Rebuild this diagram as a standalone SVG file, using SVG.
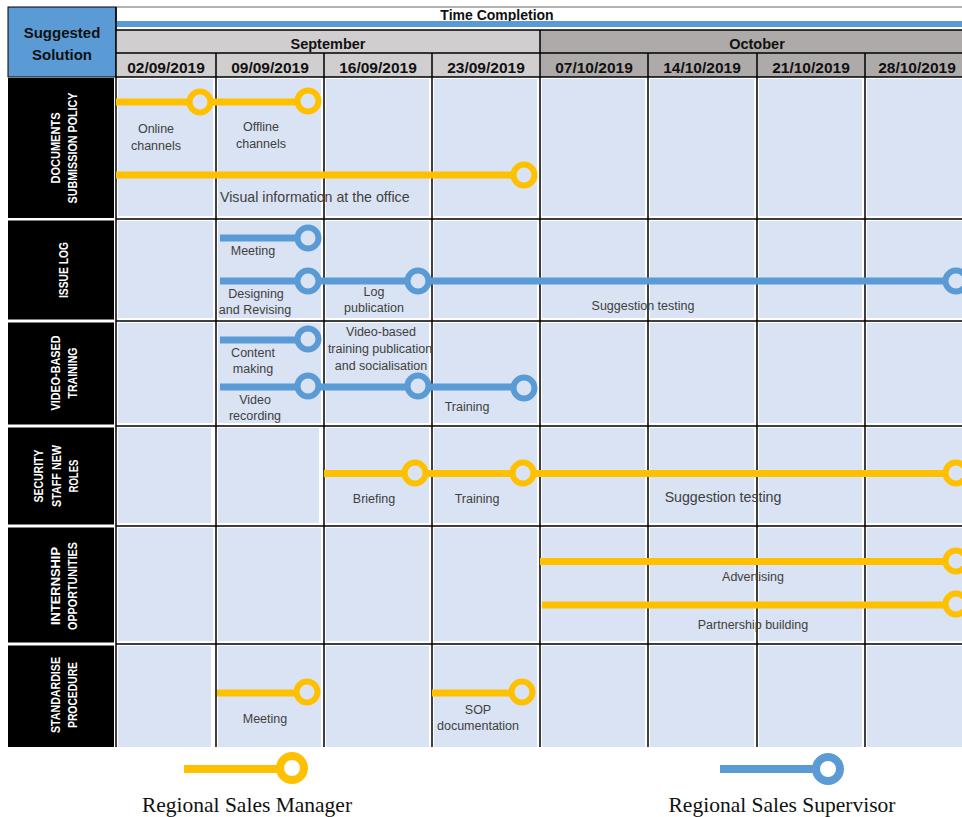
<svg xmlns="http://www.w3.org/2000/svg" width="962" height="817" viewBox="0 0 962 817">
  <style>
    .cell { fill: #DAE3F3; }
    .grid { stroke: #000; stroke-width: 1.5; fill: none; }
    .lbl-box { fill: #000; }
    .lbl { fill: #fff; font-family: "Liberation Sans", Arial, sans-serif; font-weight: bold; font-size: 12px; text-anchor: middle; }
    .hdr { fill: #111; font-family: "Liberation Sans", Arial, sans-serif; font-weight: bold; text-anchor: middle; }
    .note { fill: #404040; font-family: "Liberation Sans", Arial, sans-serif; font-size: 12.5px; text-anchor: middle; }
    .note.big { font-size: 14.2px; }
    .mgr { stroke: #FFC000; }
    .sup { stroke: #5B9BD5; }
    .bar { stroke-width: 7; fill: none; }
    .dot { stroke-width: 6; fill: #DAE3F3; }
    .legend-text { fill: #111; font-family: "Liberation Serif", "Times New Roman", serif; font-size: 21.5px; text-anchor: middle; }
  </style>

  <rect width="962" height="817" fill="#fff"/>

  <!-- header -->
  <g id="header">
    <rect x="8" y="7" width="108" height="70" fill="#5B9BD5" stroke="#000" stroke-width="1"/>
    <text class="hdr" x="62" y="38" font-size="15">Suggested</text>
    <text class="hdr" x="62" y="60" font-size="15">Solution</text>

    <line x1="116" y1="7" x2="962" y2="7" stroke="#999" stroke-width="1.5"/>
    <text class="hdr" x="497" y="20" font-size="14">Time Completion</text>
    <rect x="116" y="21" width="846" height="6" fill="#5B9BD5"/>

    <rect x="116" y="30" width="424" height="47" fill="#D0CECE"/>
    <rect x="540" y="30" width="422" height="47" fill="#AEAAAA"/>
    <text class="hdr" x="328" y="49" font-size="14.5">September</text>
    <text class="hdr" x="757" y="49" font-size="14.5">October</text>

    <g font-size="15.5">
      <text class="hdr" x="166" y="73">02/09/2019</text>
      <text class="hdr" x="270" y="73">09/09/2019</text>
      <text class="hdr" x="378" y="73">16/09/2019</text>
      <text class="hdr" x="486" y="73">23/09/2019</text>
      <text class="hdr" x="594" y="73">07/10/2019</text>
      <text class="hdr" x="702" y="73">14/10/2019</text>
      <text class="hdr" x="811" y="73">21/10/2019</text>
      <text class="hdr" x="917" y="73">28/10/2019</text>
    </g>

    <path class="grid" d="M116 30H962M116 53H962M116 77H962M116 7V77M540 30V77M216 53V77M324 53V77M432 53V77M648 53V77M757 53V77M865 53V77"/>
  </g>

  <!-- timeline body cells -->
  <g id="cells">
    <g class="cell">
      <!-- row 1: 77-219 -->
      <rect x="118" y="79" width="95" height="137"/><rect x="218" y="79" width="103" height="137"/><rect x="326" y="79" width="103" height="137"/><rect x="434" y="79" width="103" height="137"/><rect x="542" y="79" width="103" height="137"/><rect x="650" y="79" width="104" height="137"/><rect x="759" y="79" width="103" height="137"/><rect x="867" y="79" width="95" height="137"/>
      <!-- row 2: 219-321 -->
      <rect x="118" y="221" width="95" height="97"/><rect x="218" y="221" width="103" height="97"/><rect x="326" y="221" width="103" height="97"/><rect x="434" y="221" width="103" height="97"/><rect x="542" y="221" width="103" height="97"/><rect x="650" y="221" width="104" height="97"/><rect x="759" y="221" width="103" height="97"/><rect x="867" y="221" width="95" height="97"/>
      <!-- row 3: 321-426 -->
      <rect x="118" y="323" width="95" height="100"/><rect x="218" y="323" width="103" height="100"/><rect x="326" y="323" width="103" height="100"/><rect x="434" y="323" width="103" height="100"/><rect x="542" y="323" width="103" height="100"/><rect x="650" y="323" width="104" height="100"/><rect x="759" y="323" width="103" height="100"/><rect x="867" y="323" width="95" height="100"/>
      <!-- row 4: 426-526 -->
      <rect x="118" y="428" width="93" height="95"/><rect x="218" y="428" width="101" height="95"/><rect x="326" y="428" width="103" height="95"/><rect x="434" y="428" width="103" height="95"/><rect x="542" y="428" width="103" height="95"/><rect x="650" y="428" width="104" height="95"/><rect x="759" y="428" width="103" height="95"/><rect x="867" y="428" width="95" height="95"/>
      <!-- row 5: 526-644 -->
      <rect x="118" y="528" width="95" height="113"/><rect x="218" y="528" width="103" height="113"/><rect x="326" y="528" width="103" height="113"/><rect x="434" y="528" width="103" height="113"/><rect x="542" y="528" width="103" height="113"/><rect x="650" y="528" width="104" height="113"/><rect x="759" y="528" width="103" height="113"/><rect x="867" y="528" width="95" height="113"/>
      <!-- row 6: 644-747 -->
      <rect x="118" y="646" width="93" height="101"/><rect x="218" y="646" width="103" height="101"/><rect x="326" y="646" width="103" height="101"/><rect x="434" y="646" width="103" height="101"/><rect x="542" y="646" width="103" height="101"/><rect x="650" y="646" width="104" height="101"/><rect x="759" y="646" width="103" height="101"/><rect x="867" y="646" width="95" height="101"/>
    </g>
    <path class="grid" d="M116 219H962M116 321H962M116 426H962M116 526H962M116 644H962M116 77V747M216 77V747M324 77V747M432 77V747M540 77V747M648 77V747M757 77V747M865 77V747"/>
  </g>

  <!-- row labels -->
  <g id="row-documents">
    <rect class="lbl-box" x="8" y="78" width="106" height="140"/>
    <text class="lbl" transform="translate(62 148) rotate(-90)"><tspan x="0" y="-2" textLength="71" lengthAdjust="spacingAndGlyphs">DOCUMENTS</tspan><tspan x="0" y="15" textLength="111" lengthAdjust="spacingAndGlyphs">SUBMISSION POLICY</tspan></text>
  </g>
  <g id="row-issue-log">
    <rect class="lbl-box" x="8" y="220.5" width="106" height="99"/>
    <text class="lbl" transform="translate(62 270) rotate(-90)"><tspan x="0" y="6" textLength="56" lengthAdjust="spacingAndGlyphs">ISSUE LOG</tspan></text>
  </g>
  <g id="row-video-training">
    <rect class="lbl-box" x="8" y="322.5" width="106" height="102"/>
    <text class="lbl" transform="translate(62 373) rotate(-90)"><tspan x="0" y="-2" textLength="75" lengthAdjust="spacingAndGlyphs">VIDEO-BASED</tspan><tspan x="0" y="15" textLength="51" lengthAdjust="spacingAndGlyphs">TRAINING</tspan></text>
  </g>
  <g id="row-security">
    <rect class="lbl-box" x="8" y="427.5" width="106" height="97"/>
    <text class="lbl" transform="translate(62 476) rotate(-90)"><tspan x="0" y="-19" textLength="53" lengthAdjust="spacingAndGlyphs">SECURITY</tspan><tspan x="0" y="-1" textLength="62" lengthAdjust="spacingAndGlyphs">STAFF NEW</tspan><tspan x="0" y="16" textLength="33" lengthAdjust="spacingAndGlyphs">ROLES</tspan></text>
  </g>
  <g id="row-internship">
    <rect class="lbl-box" x="8" y="527.5" width="106" height="115"/>
    <text class="lbl" transform="translate(62 586) rotate(-90)"><tspan x="0" y="-2" textLength="78" lengthAdjust="spacingAndGlyphs">INTERNSHIP</tspan><tspan x="0" y="15" textLength="88" lengthAdjust="spacingAndGlyphs">OPPORTUNITIES</tspan></text>
  </g>
  <g id="row-standardise">
    <rect class="lbl-box" x="8" y="645.5" width="106" height="101.5"/>
    <text class="lbl" transform="translate(62 695) rotate(-90)"><tspan x="0" y="-2" textLength="76" lengthAdjust="spacingAndGlyphs">STANDARDISE</tspan><tspan x="0" y="15" textLength="66" lengthAdjust="spacingAndGlyphs">PROCEDURE</tspan></text>
  </g>

  <!-- task bars and milestones -->
  <g id="connectors">
    <!-- documents submission policy -->
    <path class="bar mgr" d="M116 102H308"/>
    <path class="bar mgr" d="M116 175H524"/>
    <circle class="dot mgr" cx="200" cy="102" r="10.5"/>
    <circle class="dot mgr" cx="308" cy="101" r="10.5"/>
    <circle class="dot mgr" cx="524" cy="175" r="10.5"/>
    <!-- issue log -->
    <path class="bar sup" d="M220 238H308"/>
    <path class="bar sup" d="M220 281H956"/>
    <circle class="dot sup" cx="308" cy="238" r="10.5"/>
    <circle class="dot sup" cx="308" cy="281" r="10.5"/>
    <circle class="dot sup" cx="418" cy="281" r="10.5"/>
    <circle class="dot sup" cx="956" cy="281" r="10.5"/>
    <!-- video-based training -->
    <path class="bar sup" d="M220 340H308"/>
    <path class="bar sup" d="M220 387H524"/>
    <circle class="dot sup" cx="308" cy="339" r="10.5"/>
    <circle class="dot sup" cx="308" cy="386" r="10.5"/>
    <circle class="dot sup" cx="418" cy="386" r="10.5"/>
    <circle class="dot sup" cx="524" cy="388" r="10.5"/>
    <!-- security staff new roles -->
    <path class="bar mgr" d="M324 473.5H956"/>
    <circle class="dot mgr" cx="415" cy="473" r="10.5"/>
    <circle class="dot mgr" cx="523" cy="473" r="10.5"/>
    <circle class="dot mgr" cx="956" cy="473" r="10.5"/>
    <!-- internship opportunities -->
    <path class="bar mgr" d="M540 561.5H956"/>
    <path class="bar mgr" d="M542 605H956"/>
    <circle class="dot mgr" cx="956" cy="561" r="10.5"/>
    <circle class="dot mgr" cx="956" cy="604" r="10.5"/>
    <!-- standardise procedure -->
    <path class="bar mgr" d="M217 693H307"/>
    <path class="bar mgr" d="M432 693H522"/>
    <circle class="dot mgr" cx="307" cy="692" r="10.5"/>
    <circle class="dot mgr" cx="522" cy="692" r="10.5"/>
  </g>

  <!-- task notes -->
  <g id="notes">
    <text class="note" x="156" y="133">Online</text>
    <text class="note" x="156" y="150">channels</text>
    <text class="note" x="261" y="131">Offline</text>
    <text class="note" x="261" y="148">channels</text>
    <text class="note big" x="220" y="202" style="text-anchor:start">Visual information at the office</text>

    <text class="note" x="253" y="255">Meeting</text>
    <text class="note" x="256" y="298">Designing</text>
    <text class="note" x="255" y="314">and Revising</text>
    <text class="note" x="374" y="296">Log</text>
    <text class="note" x="374" y="312">publication</text>
    <text class="note" x="643" y="310">Suggestion testing</text>

    <text class="note" x="253" y="357">Content</text>
    <text class="note" x="253" y="373">making</text>
    <text class="note" x="381" y="336">Video-based</text>
    <text class="note" x="380" y="353">training publication</text>
    <text class="note" x="381" y="370">and socialisation</text>
    <text class="note" x="255" y="404">Video</text>
    <text class="note" x="255" y="420">recording</text>
    <text class="note" x="467" y="411">Training</text>

    <text class="note" x="374" y="503">Briefing</text>
    <text class="note" x="477" y="503">Training</text>
    <text class="note big" x="723" y="502">Suggestion testing</text>

    <text class="note" x="753" y="581">Advertising</text>
    <text class="note" x="753" y="629">Partnership building</text>

    <text class="note" x="265" y="723">Meeting</text>
    <text class="note" x="478" y="714">SOP</text>
    <text class="note" x="478" y="730">documentation</text>
  </g>

  <!-- legend -->
  <g id="legend-manager">
    <path d="M184 769H292" stroke="#FFC000" stroke-width="8"/>
    <circle cx="292" cy="768" r="12" fill="#fff" stroke="#FFC000" stroke-width="8"/>
    <text class="legend-text" x="247" y="812">Regional Sales Manager</text>
  </g>
  <g id="legend-supervisor">
    <path d="M720 769H828" stroke="#5B9BD5" stroke-width="8"/>
    <circle cx="828" cy="769" r="12" fill="#fff" stroke="#5B9BD5" stroke-width="8"/>
    <text class="legend-text" x="782" y="812">Regional Sales Supervisor</text>
  </g>
</svg>
